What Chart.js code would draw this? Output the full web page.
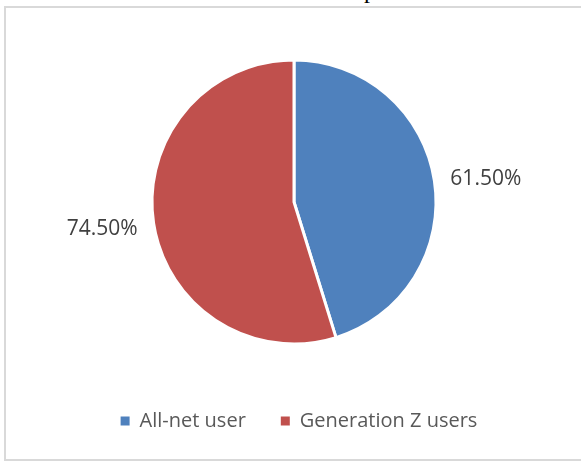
<!DOCTYPE html>
<html>
<head>
<meta charset="utf-8">
<script src="https://cdn.jsdelivr.net/npm/chart.js@4"></script>
<style>
    body { margin: 0; background: #fff; }
    #frame { position: absolute; left: 4px; top: 6px; width: 600px; height: 451px; border: 2px solid #d9d9d9; }
    #cut { position: absolute; left: 0; top: 0; width: 581px; height: 6px; overflow: hidden; }
    #cut span { position: absolute; left: 364px; top: -22px; font: 24px/24px "Liberation Serif"; color: #000; }
    #chart { position: absolute; left: 0; top: 0; }
</style>
</head>
<body>
<div id="cut"><span>p</span></div>
<div id="frame"></div>
<canvas id="chart" width="581" height="461"></canvas>
<script>
const categories = ["All-net user", "Generation Z users"];
const shares = [61.5, 74.5];
const shareLabels = ["61.50%", "74.50%"];
const colors = ["#4f81bd", "#c0504d"];

// labels outside each slice, roughly along its middle angle
const outsideLabels = {
    id: "outsideLabels",
    afterDatasetsDraw(chart) {
        const ctx = chart.ctx;
        ctx.save();
        ctx.font = '21px "Open Sans"';
        ctx.fillStyle = "#404040";
        ctx.textAlign = "center";
        ctx.textBaseline = "middle";
        chart.getDatasetMeta(0).data.forEach((arc, i) => {
            const mid = (arc.startAngle + arc.endAngle) / 2;
            const d = arc.outerRadius + 52;
            ctx.fillText(shareLabels[i], arc.x + Math.cos(mid) * d, arc.y + Math.sin(mid) * d * 0.85 + 2);
        });
        ctx.restore();
    }
};

// legend sits a little right of the pie centre in the original
const nudgeLegend = {
    id: "nudgeLegend",
    afterLayout(chart) {
        chart.legend.left += 5;
        chart.legend.right += 5;
    }
};

new Chart(document.getElementById("chart"), {
    type: "pie",
    data: {
        labels: categories,
        datasets: [{
            data: shares,
            backgroundColor: colors,
            borderColor: "#ffffff",
            borderWidth: 3,
            radius: 142
        }]
    },
    options: {
        responsive: false,
        animation: false,
        layout: { padding: { left: 60, right: 53, top: 28, bottom: 20 } },
        plugins: {
            tooltip: { enabled: false },
            legend: {
                position: "bottom",
                labels: {
                    boxWidth: 9,
                    boxHeight: 9,
                    padding: 35,
                    color: "#595959",
                    font: { family: "Open Sans", size: 20 },
                    generateLabels(chart) {
                        const items = Chart.overrides.pie.plugins.legend.labels.generateLabels(chart);
                        items.forEach(it => { it.lineWidth = 0; });
                        return items;
                    }
                }
            }
        }
    },
    plugins: [outsideLabels, nudgeLegend]
});
</script>
</body>
</html>
